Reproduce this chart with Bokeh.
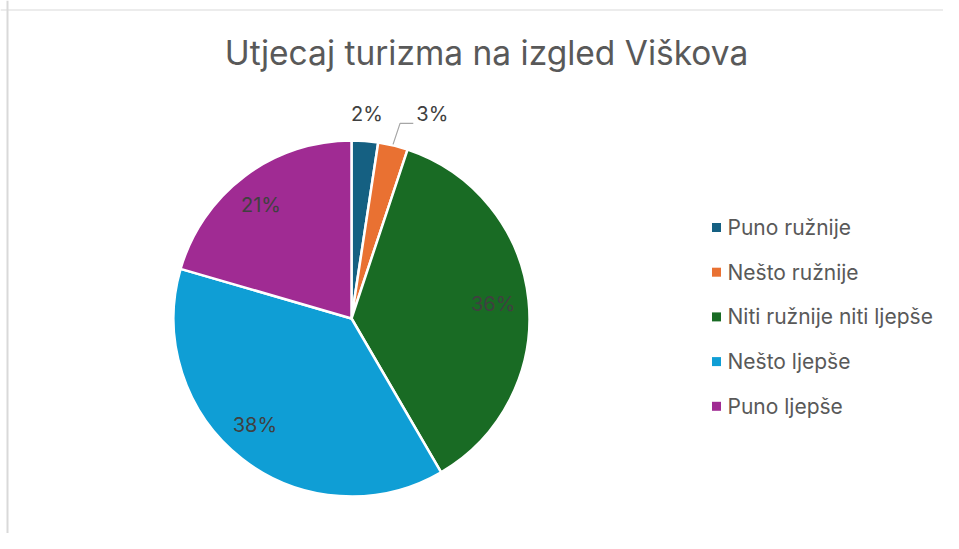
import math
from bokeh.plotting import figure
from bokeh.models import Range1d, Span, ColumnDataSource
from bokeh.core.properties import value
from bokeh.embed import file_html
from bokeh.resources import INLINE

# ---- data ----
categories = ["Puno ružnije", "Nešto ružnije", "Niti ružnije niti ljepše", "Nešto ljepše", "Puno ljepše"]
shares = [2.4, 2.7, 36.5, 37.9, 20.5]
pct_labels = ["2%", "3%", "36%", "38%", "21%"]
colors = ["#156082", "#E97132", "#196B24", "#0F9ED5", "#A02B93"]
title_text = "Utjecaj turizma na izgled Viškova"

# ---- layout (screen pixel coordinates, y measured downward) ----
W, H = 943, 533
CX, CY, R = 351, 318, 178
FONT = "Inter"

p = figure(width=W, height=H, output_backend="svg", toolbar_location=None,
           x_range=Range1d(0, W), y_range=Range1d(-H, 0),
           min_border=0, outline_line_color=None)
p.axis.visible = False
p.grid.visible = False
p.background_fill_color = "white"
p.border_fill_color = "white"

# chart-area border (left and top visible)
p.add_layout(Span(location=7, dimension="height", line_color="#D9D9D9", line_width=2))
p.add_layout(Span(location=-9.5, dimension="width", line_color="#D9D9D9", line_width=1))

total = sum(shares)
starts, ends, mids = [], [], []
c = 0.0
for s in shares:
    c0 = c / total
    c += s
    c1 = c / total
    starts.append(math.pi / 2 - 2 * math.pi * c1)
    ends.append(math.pi / 2 - 2 * math.pi * c0)
    mids.append((c0 + c1) / 2)

src = ColumnDataSource(dict(start=starts, end=ends, color=colors, cat=categories))
p.wedge(x=CX, y=-CY, radius=R, start_angle="start", end_angle="end",
        fill_color="color", line_color="white", line_width=2.5, source=src)

# percentage labels
rfac = [1.15, 1.15, 0.80, 0.80, 0.80]
xshift = [0, 33, 0, -9, -5]
yshift = [0, -5, 0, -6, 0]
lx, ly = [], []
for m, rf, dx, dy in zip(mids, rfac, xshift, yshift):
    a = 2 * math.pi * m
    lx.append(CX + R * rf * math.sin(a) + dx)
    ly.append(-(CY - R * rf * math.cos(a) + dy))
p.text(x=lx, y=ly, text=pct_labels, text_align="center", text_baseline="middle",
       text_font=value(FONT), text_font_size="20px", text_color="#404040")

# leader line for the small orange slice
a_or = 2 * math.pi * mids[1]
ex, ey = CX + R * math.sin(a_or), CY - R * math.cos(a_or)
p.line(x=[ex, ex + 7, lx[1] - 19], y=[-(ey - 1), -(ey - 22), -(ey - 22)],
       line_color="#A6A6A6", line_width=1.2)

# title
p.text(x=[486], y=[-52], text=[title_text], text_align="center", text_baseline="middle",
       text_font=value(FONT), text_font_size="33.5px", text_color="#595959")

# legend
leg_y = [-(227 + 44.7 * i) for i in range(len(categories))]
p.rect(x=[716] * len(categories), y=leg_y, width=9, height=9, fill_color=colors, line_color=None)
p.text(x=[727] * len(categories), y=leg_y, text=categories, text_align="left",
       text_baseline="middle", text_font=value(FONT), text_font_size="21px", text_color="#595959")

open("out.html", "w").write(file_html(p, INLINE))
